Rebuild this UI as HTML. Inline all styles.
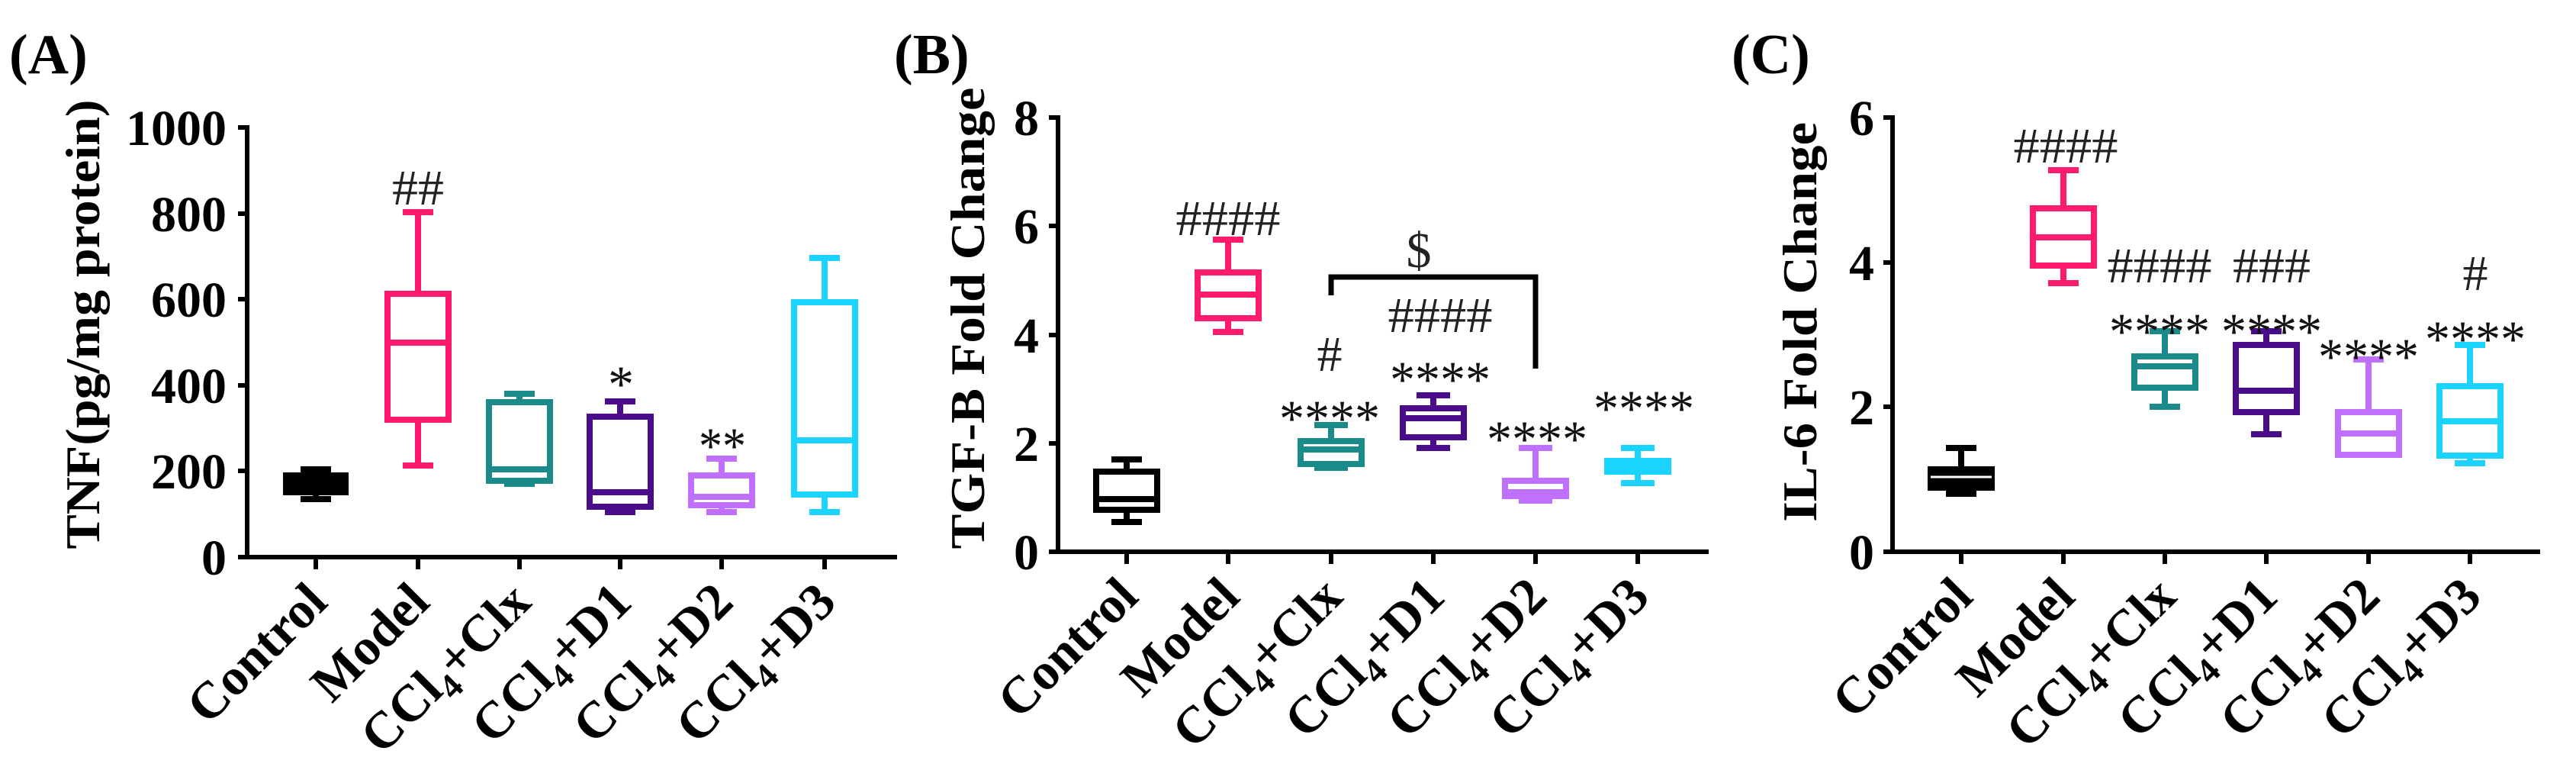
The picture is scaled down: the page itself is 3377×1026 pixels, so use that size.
<!DOCTYPE html>
<html><head><meta charset="utf-8"><style>
html,body{margin:0;padding:0;background:#fff;}
svg{display:block;}
text{font-family:"Liberation Serif","Times New Roman",serif;}
.b{font-weight:bold;}
.tl{font-size:66px;font-weight:bold;text-anchor:end;}
.xl{font-size:68px;font-weight:bold;text-anchor:end;}
.h{font-size:66px;text-anchor:middle;fill:#222;}
.s{font-size:68px;text-anchor:middle;fill:#111;}
</style></head><body>
<svg width="3377" height="1026" viewBox="0 0 3377 1026" xmlns="http://www.w3.org/2000/svg">
<g fill="none" stroke-width="8" stroke-linecap="butt">

<g stroke="#000" stroke-width="6">
<path d="M324 164 V730 H1176"/>
<path d="M312 167H324 M312 280H324 M312 392H324 M312 505H324 M312 617H324 M312 730H324"/>
<path d="M414 730V746 M548 730V746 M681 730V746 M813 730V746 M946 730V746 M1081 730V746"/>
</g>
<g stroke="#000"><rect x="375" y="623" width="78" height="22" fill="#000"/><path d="M414 615V623 M394 615H434 M414 645V654 M394 654H434"/></g>
<g stroke="#ff1a6e"><rect x="508" y="385" width="80" height="165"/><path d="M508 449H588 M548 278V385 M528 278H568 M548 550V610 M528 610H568"/></g>
<g stroke="#1a8a8a"><rect x="641" y="527" width="80" height="103"/><path d="M641 615H721 M681 516V527 M661 516H701 M681 630V634 M661 634H701"/></g>
<g stroke="#4b0c8c"><rect x="773" y="546" width="80" height="118"/><path d="M773 645H853 M813 526V546 M793 526H833 M813 664V671 M793 671H833"/></g>
<g stroke="#c070ff"><rect x="906" y="623" width="80" height="39"/><path d="M906 651H986 M946 601V623 M926 601H966 M946 662V671 M926 671H966"/></g>
<g stroke="#1ad4ff"><rect x="1041" y="396" width="80" height="252"/><path d="M1041 577H1121 M1081 338V396 M1061 338H1101 M1081 648V671 M1061 671H1101"/></g>

<g stroke="#000" stroke-width="6">
<path d="M1387 151 V723 H2240"/>
<path d="M1375 154H1387 M1375 296H1387 M1375 439H1387 M1375 581H1387 M1375 723H1387"/>
<path d="M1477 723V739 M1610 723V739 M1745 723V739 M1879 723V739 M2013 723V739 M2147 723V739"/>
<path d="M1745 387V363H2013V483" stroke-width="7"/>
</g>
<g stroke="#000"><rect x="1437" y="618" width="80" height="50"/><path d="M1437 654H1517 M1477 602V618 M1457 602H1497 M1477 668V684 M1457 684H1497"/></g>
<g stroke="#ff1a6e"><rect x="1570" y="357" width="80" height="60"/><path d="M1570 386H1650 M1610 314V357 M1590 314H1630 M1610 417V435 M1590 435H1630"/></g>
<g stroke="#1a8a8a"><rect x="1705" y="578" width="80" height="30"/><path d="M1705 589H1785 M1745 557V578 M1723 557H1767 M1745 608V613 M1723 613H1767"/></g>
<g stroke="#4b0c8c"><rect x="1839" y="535" width="80" height="38"/><path d="M1839 548H1919 M1879 518V535 M1857 518H1901 M1879 573V587 M1857 587H1901"/></g>
<g stroke="#c070ff"><rect x="1973" y="630" width="80" height="20"/><path d="M1973 645H2053 M2013 587V630 M1991 587H2035 M2013 650V656 M1991 656H2035"/></g>
<g stroke="#1ad4ff"><rect x="2107" y="604" width="80" height="14" fill="#1ad4ff"/><path d="M2147 587V604 M2125 587H2169 M2147 618V633 M2125 633H2169"/></g>

<g stroke="#000" stroke-width="6">
<path d="M2481 151 V723 H3330"/>
<path d="M2469 154H2481 M2469 344H2481 M2469 533H2481 M2469 723H2481"/>
<path d="M2571 723V739 M2705 723V739 M2838 723V739 M2971 723V739 M3105 723V739 M3238 723V739"/>
</g>
<g stroke="#000"><rect x="2531" y="615" width="80" height="24" fill="#000"/><path d="M2531 625H2611" stroke="#fff" stroke-width="3"/><path d="M2571 587V615 M2551 587H2591 M2571 639V647 M2551 647H2591"/></g>
<g stroke="#ff1a6e"><rect x="2665" y="273" width="80" height="75"/><path d="M2665 311H2745 M2705 223V273 M2685 223H2725 M2705 348V371 M2685 371H2725"/></g>
<g stroke="#1a8a8a"><rect x="2798" y="467" width="80" height="41"/><path d="M2798 480H2878 M2838 434V467 M2818 434H2858 M2838 508V533 M2818 533H2858"/></g>
<g stroke="#4b0c8c"><rect x="2931" y="452" width="80" height="88"/><path d="M2931 512H3011 M2971 434V452 M2951 434H2991 M2971 540V569 M2951 569H2991"/></g>
<g stroke="#c070ff"><rect x="3065" y="540" width="80" height="56"/><path d="M3065 568H3145 M3105 471V540 M3085 471H3125"/></g>
<g stroke="#1ad4ff"><rect x="3198" y="506" width="80" height="91"/><path d="M3198 552H3278 M3238 452V506 M3218 452H3258 M3238 597V607 M3218 607H3258"/></g>
</g>

<text x="12" y="96" class="b" font-size="74">(A)</text>
<text x="1172" y="96" class="b" font-size="74">(B)</text>
<text x="2270" y="96" class="b" font-size="74">(C)</text>

<text class="b" font-size="64" text-anchor="middle" textLength="589" lengthAdjust="spacingAndGlyphs" transform="translate(130,425) rotate(-90)">TNF(pg/mg protein)</text>
<text class="b" font-size="64" text-anchor="middle" textLength="605" lengthAdjust="spacingAndGlyphs" transform="translate(1290,417) rotate(-90)">TGF-B Fold Change</text>
<text class="b" font-size="64" text-anchor="middle" textLength="524" lengthAdjust="spacingAndGlyphs" transform="translate(2381,422) rotate(-90)">IL-6 Fold Change</text>

<text class="tl" x="297" y="190">1000</text>
<text class="tl" x="297" y="303">800</text>
<text class="tl" x="297" y="415">600</text>
<text class="tl" x="297" y="528">400</text>
<text class="tl" x="297" y="640">200</text>
<text class="tl" x="297" y="753">0</text>
<text class="tl" x="1362" y="177">8</text>
<text class="tl" x="1362" y="319">6</text>
<text class="tl" x="1362" y="462">4</text>
<text class="tl" x="1362" y="604">2</text>
<text class="tl" x="1362" y="746">0</text>
<text class="tl" x="2457" y="177">6</text>
<text class="tl" x="2457" y="367">4</text>
<text class="tl" x="2457" y="556">2</text>
<text class="tl" x="2457" y="746">0</text>

<text class="xl" transform="translate(432,792) rotate(-45)">Control</text>
<text class="xl" transform="translate(566,792) rotate(-45)">Model</text>
<text class="xl" transform="translate(699,792) rotate(-45)">CCl<tspan font-size="46" dy="15">4</tspan><tspan dy="-15">+Clx</tspan></text>
<text class="xl" transform="translate(831,792) rotate(-45)">CCl<tspan font-size="46" dy="15">4</tspan><tspan dy="-15">+D1</tspan></text>
<text class="xl" transform="translate(964,792) rotate(-45)">CCl<tspan font-size="46" dy="15">4</tspan><tspan dy="-15">+D2</tspan></text>
<text class="xl" transform="translate(1099,792) rotate(-45)">CCl<tspan font-size="46" dy="15">4</tspan><tspan dy="-15">+D3</tspan></text>
<text class="xl" transform="translate(1495,785) rotate(-45)">Control</text>
<text class="xl" transform="translate(1628,785) rotate(-45)">Model</text>
<text class="xl" transform="translate(1763,785) rotate(-45)">CCl<tspan font-size="46" dy="15">4</tspan><tspan dy="-15">+Clx</tspan></text>
<text class="xl" transform="translate(1897,785) rotate(-45)">CCl<tspan font-size="46" dy="15">4</tspan><tspan dy="-15">+D1</tspan></text>
<text class="xl" transform="translate(2031,785) rotate(-45)">CCl<tspan font-size="46" dy="15">4</tspan><tspan dy="-15">+D2</tspan></text>
<text class="xl" transform="translate(2165,785) rotate(-45)">CCl<tspan font-size="46" dy="15">4</tspan><tspan dy="-15">+D3</tspan></text>
<text class="xl" transform="translate(2589,785) rotate(-45)">Control</text>
<text class="xl" transform="translate(2723,785) rotate(-45)">Model</text>
<text class="xl" transform="translate(2856,785) rotate(-45)">CCl<tspan font-size="46" dy="15">4</tspan><tspan dy="-15">+Clx</tspan></text>
<text class="xl" transform="translate(2989,785) rotate(-45)">CCl<tspan font-size="46" dy="15">4</tspan><tspan dy="-15">+D1</tspan></text>
<text class="xl" transform="translate(3123,785) rotate(-45)">CCl<tspan font-size="46" dy="15">4</tspan><tspan dy="-15">+D2</tspan></text>
<text class="xl" transform="translate(3256,785) rotate(-45)">CCl<tspan font-size="46" dy="15">4</tspan><tspan dy="-15">+D3</tspan></text>

<text class="h" x="548" y="268" textLength="68" lengthAdjust="spacingAndGlyphs">##</text>
<text class="s" x="814" y="526">*</text>
<text class="s" x="947" y="607" textLength="62" lengthAdjust="spacingAndGlyphs">**</text>
<text class="h" x="1610" y="308" textLength="137" lengthAdjust="spacingAndGlyphs">####</text>
<text class="h" x="1860" y="350" font-size="70">$</text>
<text class="h" x="1888" y="435" textLength="137" lengthAdjust="spacingAndGlyphs">####</text>
<text class="h" x="1743" y="486">#</text>
<text class="s" x="1888" y="520" textLength="132" lengthAdjust="spacingAndGlyphs">****</text>
<text class="s" x="1743" y="571" textLength="132" lengthAdjust="spacingAndGlyphs">****</text>
<text class="s" x="2015" y="598" textLength="132" lengthAdjust="spacingAndGlyphs">****</text>
<text class="s" x="2155" y="558" textLength="132" lengthAdjust="spacingAndGlyphs">****</text>
<text class="h" x="2708" y="213" textLength="137" lengthAdjust="spacingAndGlyphs">####</text>
<text class="h" x="2831" y="370" textLength="137" lengthAdjust="spacingAndGlyphs">####</text>
<text class="h" x="2978" y="370" textLength="102" lengthAdjust="spacingAndGlyphs">###</text>
<text class="h" x="3245" y="380">#</text>
<text class="s" x="2831" y="457" textLength="132" lengthAdjust="spacingAndGlyphs">****</text>
<text class="s" x="2978" y="457" textLength="132" lengthAdjust="spacingAndGlyphs">****</text>
<text class="s" x="3105" y="490" textLength="132" lengthAdjust="spacingAndGlyphs">****</text>
<text class="s" x="3245" y="467" textLength="132" lengthAdjust="spacingAndGlyphs">****</text>
</svg>
</body></html>
